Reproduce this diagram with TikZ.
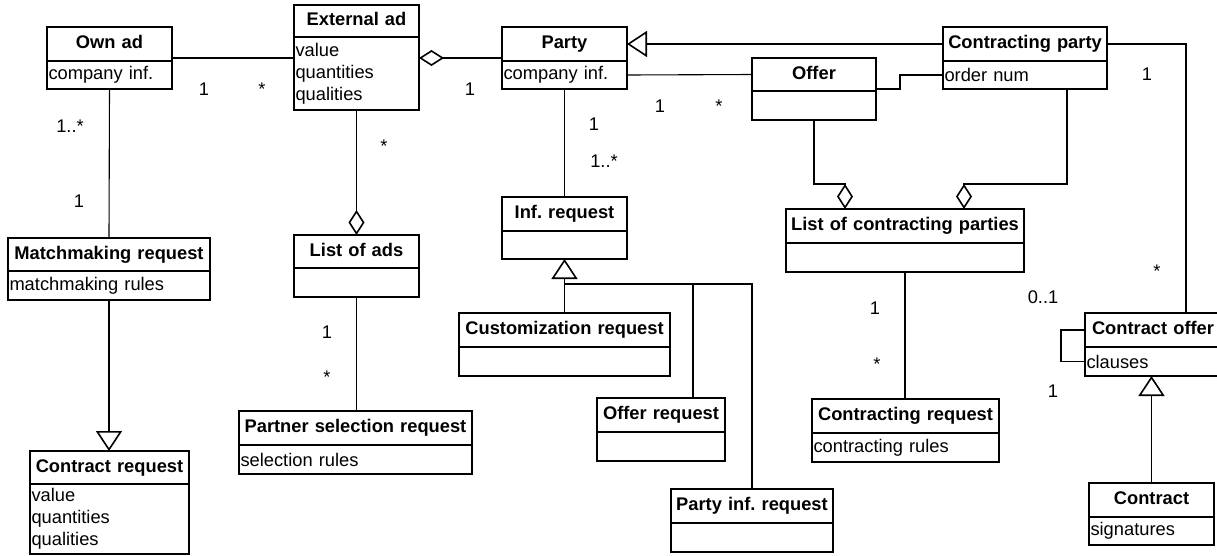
\documentclass[tikz,border=0pt]{standalone}
\usepackage{fontspec}
\setmainfont{Liberation Sans}
\usepackage{tikz}
\usetikzlibrary{arrows.meta,positioning}
\frenchspacing

\begin{document}
\begin{tikzpicture}[x=1pt,y=-1pt,
    font=\fontsize{18.3}{22}\selectfont,
    boxwidth/.style={minimum width=#1, text width=#1-3pt},
    classname/.style={draw, line width=1.8pt, outer sep=0pt, inner xsep=1.5pt, inner ysep=0pt,
        anchor=north west, minimum height=34pt, text height=13.5pt, text depth=4pt, align=center,
        font=\fontsize{18.3}{22}\selectfont\bfseries},
    classattr/.style={draw, line width=1.8pt, outer sep=0pt, inner xsep=1.5pt, inner ysep=0pt,
        align=left, minimum height=29pt},
    conn/.style={line width=1.1pt},
    gen/.style={conn, -{Triangle[open, length=20pt, width=26pt, line width=1.6pt]}},
    aggr/.style={conn, -{Diamond[open, length=25pt, width=16pt, line width=1.6pt]}},
    mult/.style={anchor=base, inner sep=0pt}]

    \useasboundingbox (0,0) rectangle (1217,555);

    % Draw classes
    \node[classname, boxwidth=125pt] (ownad) at (47,27) {Own ad};
    \node[classattr, boxwidth=125pt, minimum height=28pt, below=0pt of ownad] (ownad-a) {company inf.};

    \node[classname, boxwidth=125pt, minimum height=32pt] (extad) at (294,5) {External ad};
    \node[classattr, boxwidth=125pt, minimum height=73pt, below=0pt of extad] (extad-a) {value\\quantities\\qualities};

    \node[classname, boxwidth=202pt, minimum height=33pt] (matchreq) at (8,238) {Matchmaking request};
    \node[classattr, boxwidth=202pt, below=0pt of matchreq] (matchreq-a) {matchmaking rules};

    \node[classname, boxwidth=159pt, minimum height=33pt] (contractreq) at (30,451) {Contract request};
    \node[classattr, boxwidth=159pt, minimum height=70pt, below=0pt of contractreq] (contractreq-a) {value\\quantities\\qualities};

    \node[classname, boxwidth=125pt, minimum height=33pt] (listads) at (294,235) {List of ads};
    \node[classattr, boxwidth=125pt, below=0pt of listads] (listads-a) {};

    \node[classname, boxwidth=233pt] (partnersel) at (239,411) {Partner selection request};
    \node[classattr, boxwidth=233pt, below=0pt of partnersel] (partnersel-a) {selection rules};

    \node[classname, boxwidth=125pt] (party) at (502,27) {Party};
    \node[classattr, boxwidth=125pt, minimum height=28pt, below=0pt of party] (party-a) {company inf.};

    \node[classname, boxwidth=124pt, minimum height=33pt] (offer) at (752,58) {Offer};
    \node[classattr, boxwidth=124pt, below=0pt of offer] (offer-a) {};

    \node[classname, boxwidth=164pt] (contrparty) at (943,27) {Contracting party};
    \node[classattr, boxwidth=164pt, minimum height=28pt, below=0pt of contrparty] (contrparty-a) {order num};

    \node[classname, boxwidth=125pt] (infreq) at (502,197) {Inf. request};
    \node[classattr, boxwidth=125pt, minimum height=28pt, below=0pt of infreq] (infreq-a) {};

    \node[classname, boxwidth=211pt] (custreq) at (459,313) {Customization request};
    \node[classattr, boxwidth=211pt, below=0pt of custreq] (custreq-a) {};

    \node[classname, boxwidth=128pt] (offerreq) at (597,398) {Offer request};
    \node[classattr, boxwidth=128pt, below=0pt of offerreq] (offerreq-a) {};

    \node[classname, boxwidth=162pt] (partyinfreq) at (671,489) {Party inf. request};
    \node[classattr, boxwidth=162pt, below=0pt of partyinfreq] (partyinfreq-a) {};

    \node[classname, boxwidth=238pt] (listcp) at (786,209) {List of contracting parties};
    \node[classattr, boxwidth=238pt, below=0pt of listcp] (listcp-a) {};

    \node[classname, boxwidth=187pt] (contractingreq) at (812,399) {Contracting request};
    \node[classattr, boxwidth=187pt, below=0pt of contractingreq] (contractingreq-a) {contracting rules};

    \node[classname, boxwidth=136pt] (controffer) at (1085,313) {Contract offer};
    \node[classattr, boxwidth=136pt, below=0pt of controffer] (controffer-a) {clauses};

    \node[classname, boxwidth=125pt] (contract) at (1089,483) {Contract};
    \node[classattr, boxwidth=125pt, minimum height=28pt, below=0pt of contract] (contract-a) {signatures};

    % Associations
    \draw[conn] ([yshift=3pt]ownad.south east) -- ([yshift=3pt]ownad.south east -| extad-a.west);
    \draw[conn] (ownad-a.south) -- (matchreq.north);
    \draw[conn] (listads-a.south) -- (listads-a.south |- partnersel.north);
    \draw[conn] (party-a.east) -- (offer.west);
    \draw[conn] ([yshift=2pt]offer.south east) -- ++(24,0) |- (contrparty-a.west);
    \draw[conn] (party-a.south) -- (infreq.north);
    \draw[conn] (listcp-a.south) -- (listcp-a.south |- contractingreq.north);
    \draw[conn] (contrparty.east) -| ([xshift=33pt]controffer.north);
    \draw[conn] (controffer.west) -- ++(-24,0) |- (controffer-a.west);

    % Aggregations
    \draw[aggr] (extad-a.south) -- (listads.north);
    \draw[aggr] ([yshift=3pt]party.south west) -- ([yshift=3pt]party.south west -| extad-a.east);
    \draw[aggr] (offer-a.south) |- ([xshift=-60pt,yshift=25pt]listcp.north) -- ([xshift=-60pt]listcp.north);
    \draw[aggr] ([xshift=42pt]contrparty-a.south) |- ([xshift=59pt,yshift=25pt]listcp.north) -- ([xshift=59pt]listcp.north);

    % Generalizations
    \draw[gen] (matchreq-a.south) -- (matchreq-a.south |- contractreq.north);
    \draw[gen] (contrparty.west) -- (party.east);
    \draw[gen] (custreq.north) -- (infreq-a.south);
    \coordinate (genjoin) at ([yshift=-25pt]infreq-a.south);
    \draw[conn] ([xshift=32pt]offerreq.north) |- (genjoin);
    \draw[conn] (partyinfreq.north) |- (genjoin);
    \draw[gen] (contract.north) -- (contract.north |- controffer-a.south);

    % Multiplicities
    \node[mult] (m-own-ext) at (204,95) {1};
    \node[mult] (m-ext-own) at (262,95) {*};
    \node[mult] (m-own-match) at (70,132) {1..*};
    \node[mult] (m-match-own) at (79,207) {1};
    \node[mult] (m-ext-list) at (384,152) {*};
    \node[mult] (m-list-sel) at (327,338) {1};
    \node[mult] (m-sel-list) at (327,383) {*};
    \node[mult] (m-party-ext) at (470,95) {1};
    \node[mult] (m-party-offer) at (660,112) {1};
    \node[mult] (m-offer-party) at (719,112) {*};
    \node[mult] (m-party-inf) at (594,130) {1};
    \node[mult] (m-inf-party) at (604,167) {1..*};
    \node[mult] (m-cp-co) at (1147,80) {1};
    \node[mult] (m-co-cp) at (1157,277) {*};
    \node[mult] (m-lcp-creq) at (875,314) {1};
    \node[mult] (m-creq-lcp) at (877,370) {*};
    \node[mult] (m-co-self1) at (1043,303) {0..1};
    \node[mult] (m-co-self2) at (1053,397) {1};
\end{tikzpicture}
\end{document}
